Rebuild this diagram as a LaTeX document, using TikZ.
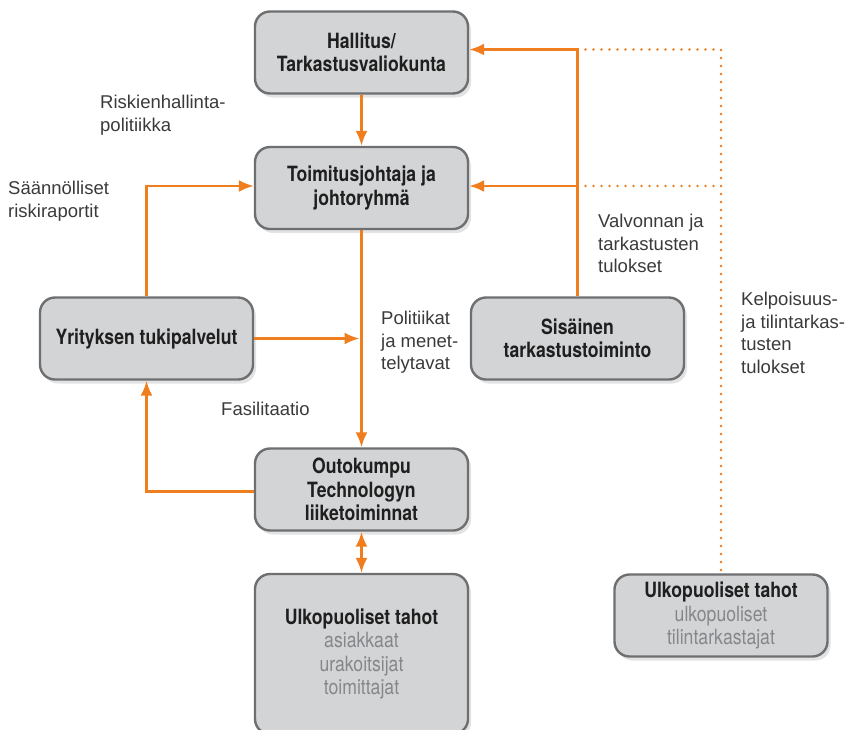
\documentclass[tikz,border=0pt]{standalone}
\usepackage{fontspec}
\setmainfont{Liberation Sans}
\newfontfamily\boxfont{TeX Gyre Heros}[FakeStretch=0.84]
\usetikzlibrary{arrows.meta,shadows,calc}
\definecolor{okorange}{HTML}{F07D1E}
\definecolor{boxfill}{HTML}{D3D4D6}
\definecolor{boxdraw}{HTML}{6E6F71}
\definecolor{txtgray}{HTML}{86878A}
\definecolor{lbl}{HTML}{3A3A3A}
\tikzset{
  box/.style={draw=boxdraw, line width=2.4pt, fill=boxfill, rounded corners=15pt,
    minimum width=213pt, minimum height=82pt, align=center, inner sep=2pt,
    font={\boxfont\fontsize{21}{23.5}\selectfont\bfseries}, text=black!88,
    drop shadow={opacity=0.22, shadow xshift=3pt, shadow yshift=-4pt}},
  conn/.style={draw=okorange, line width=2.5pt},
  tip/.tip={Latex[length=15pt,width=12pt]},
  arr/.style={conn, -tip},
  dots/.style={draw=okorange, line width=2.6pt, line cap=round, dash pattern=on 0pt off 8pt},
  lab/.style={font={\fontsize{18.5}{22.5}\selectfont}, text=lbl, align=left, anchor=north west, inner sep=0pt}
}
\begin{document}
\begin{tikzpicture}[x=1pt,y=-1pt]
\useasboundingbox (0,0) rectangle (864,729);
\begin{scope}
\clip (0,0) rectangle (864,729);
\node[box] (b1) at (361.5,52.5) {Hallitus/\\Tarkastusvaliokunta};
\node[box] (b2) at (361.5,188) {Toimitusjohtaja ja\\johtoryhmä};
\node[box] (b3) at (146.5,338.5) {Yrityksen tukipalvelut};
\node[box] (b4) at (577.5,338.5) {Sisäinen\\tarkastustoiminto};
\node[box] (b5) at (361.5,489.5) {Outokumpu\\Technologyn\\liiketoiminnat};
\node[box, minimum height=160pt] (b6) at (361.5,654) {Ulkopuoliset tahot\\{\mdseries\color{txtgray}asiakkaat}\\{\mdseries\color{txtgray}urakoitsijat}\\{\mdseries\color{txtgray}toimittajat}};
\node[box] (b7) at (721,615.5) {Ulkopuoliset tahot\\{\mdseries\color{txtgray}ulkopuoliset}\\{\mdseries\color{txtgray}tilintarkastajat}};
\end{scope}

\coordinate (t1) at ($(b1.east)+(0,-3)$);
\coordinate (t2) at ($(b2.east)+(0,-2)$);
\coordinate (j1) at (b4.north |- t1);
\coordinate (j2) at (b4.north |- t2);
\coordinate (d1) at (b7.north |- t1);
\coordinate (d2) at (b7.north |- t2);
\coordinate (l2) at ($(b2.west)+(0,-2)$);
\coordinate (m3) at ($(b2.south |- b3.east)+(-2,0)$);
\coordinate (w5) at ($(b5.west)+(0,2)$);

\draw[dots] (j1) -- (d1) -- (b7.north);
\draw[dots] (j2) -- (d2);
\draw[arr] (b1) -- (b2);
\draw[arr] (b4.north) -- (j1) -- (t1);
\draw[arr] (j2) -- (t2);
\draw[arr] (b3.north) |- (l2);
\draw[arr] (b2) -- (b5);
\draw[arr] (b3.east) -- (m3);
\draw[arr] (w5) -| (b3.south);
\draw[conn, tip-tip] (b5) -- (b6);

\node[lab] (l1) at (100,95) {Riskienhallinta-\\politiikka};
\node[lab] (l2t) at (8,181) {Säännölliset\\riskiraportit};
\node[lab] (l3) at (598,214) {Valvonnan ja\\tarkastusten\\tulokset};
\node[lab] (l4) at (381,311) {Politiikat\\ja menet-\\telytavat};
\node[lab] (l5) at (221,402) {Fasilitaatio};
\node[lab] (l6) at (741,292) {Kelpoisuus-\\ja tilintarkas-\\tusten\\tulokset};
\end{tikzpicture}
\end{document}
